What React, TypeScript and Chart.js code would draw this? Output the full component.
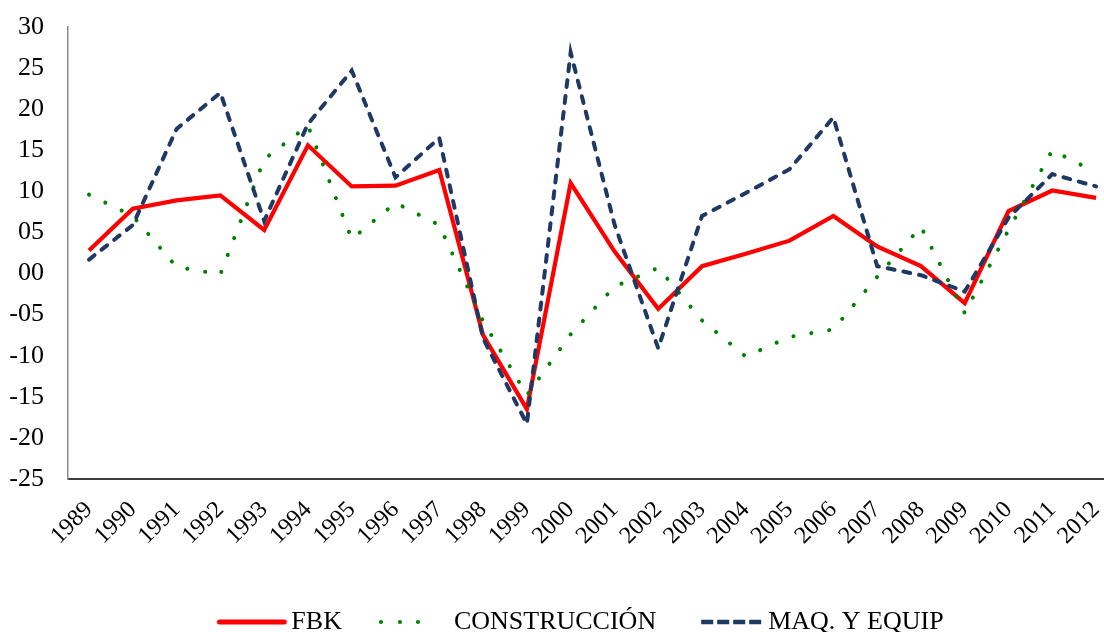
import React, { useEffect, useRef } from "react";
import { Chart, registerables } from "chart.js";

Chart.register(...registerables);

const years = [
  "1989", "1990", "1991", "1992", "1993", "1994", "1995", "1996", "1997", "1998", "1999", "2000",
  "2001", "2002", "2003", "2004", "2005", "2006", "2007", "2008", "2009", "2010", "2011", "2012",
];

const fbk = [2.8, 7.9, 8.9, 9.5, 5.3, 15.6, 10.6, 10.7, 12.6, -7.5, -16.5, 11.0, 2.7, -4.3, 0.9, 2.4, 4.0, 7.0, 3.3, 0.9, -3.6, 7.6, 10.1, 9.2];
const construccion = [9.6, 7.0, 0.8, -0.1, 13.9, 18.0, 4.2, 8.6, 5.9, -5.8, -14.8, -7.4, -1.6, 0.7, -5.7, -10.1, -7.7, -6.8, -0.4, 5.7, -4.8, 5.3, 15.0, 12.3];
const maqEquip = [1.7, 5.9, 17.6, 22.0, 6.4, 18.2, 24.7, 11.7, 16.5, -7.9, -18.3, 26.9, 6.0, -9.1, 7.0, 9.8, 12.7, 19.0, 0.9, -0.2, -2.2, 6.8, 12.1, 10.6];

const seriesNames = ["FBK", "CONSTRUCCIÓN", "MAQ. Y EQUIP"];

const yTickValues = [30, 25, 20, 15, 10, 5, 0, -5, -10, -15, -20, -25];
const yTickLabels = ["30", "25", "20", "15", "10", "05", "00", "-05", "-10", "-15", "-20", "-25"];

const RED = "#ff0000";
const GREEN = "#008000";
const NAVY = "#1f3864";

function makeSample(kind: "solid" | "dots" | "dash"): HTMLCanvasElement {
  const c = document.createElement("canvas");
  c.width = 84;
  c.height = 12;
  const ctx = c.getContext("2d")!;
  if (kind === "solid") {
    ctx.strokeStyle = RED;
    ctx.lineWidth = 5;
    ctx.lineCap = "round";
    ctx.beginPath();
    ctx.moveTo(14, 6);
    ctx.lineTo(79, 6);
    ctx.stroke();
  } else if (kind === "dots") {
    ctx.fillStyle = GREEN;
    [13, 32, 50].forEach((x) => {
      ctx.beginPath();
      ctx.arc(x, 6, 2.1, 0, Math.PI * 2);
      ctx.fill();
    });
  } else {
    ctx.strokeStyle = NAVY;
    ctx.lineWidth = 4.5;
    ctx.setLineDash([12, 4]);
    ctx.beginPath();
    ctx.moveTo(19, 6);
    ctx.lineTo(79, 6);
    ctx.stroke();
  }
  return c;
}

export default function App() {
  const ref = useRef<HTMLCanvasElement | null>(null);

  useEffect(() => {
    document.body.style.margin = "0";
    const toPoints = (arr: number[]) => arr.map((y, i) => ({ x: i, y }));
    const samples = [makeSample("solid"), makeSample("dots"), makeSample("dash")];
    const font = "'Liberation Serif', 'Times New Roman', serif";

    const chart = new Chart(ref.current!, {
      type: "line",
      data: {
        datasets: [
          {
            label: seriesNames[0],
            data: toPoints(fbk),
            borderColor: RED,
            backgroundColor: RED,
            borderWidth: 4.2,
            pointRadius: 0,
            tension: 0,
            order: 3,
          },
          {
            label: seriesNames[1],
            data: toPoints(construccion),
            borderColor: GREEN,
            backgroundColor: GREEN,
            borderWidth: 4,
            borderDash: [0.1, 18],
            borderCapStyle: "round",
            pointRadius: 0,
            tension: 0,
            order: 2,
          },
          {
            label: seriesNames[2],
            data: toPoints(maqEquip),
            borderColor: NAVY,
            backgroundColor: NAVY,
            borderWidth: 4,
            borderDash: [7, 9],
            borderCapStyle: "round",
            pointRadius: 0,
            tension: 0,
            order: 1,
          },
        ],
      },
      options: {
        animation: false,
        responsive: true,
        maintainAspectRatio: false,
        layout: { padding: { top: 27, left: 0, right: 0, bottom: 0 } },
        plugins: {
          tooltip: { enabled: false },
          legend: {
            position: "bottom",
            labels: {
              usePointStyle: true,
              pointStyleWidth: 62,
              padding: 37,
              color: "#000",
              font: { family: font, size: 26 },
              generateLabels: (ch: any) =>
                ch.data.datasets.map((ds: any, i: number) => ({
                  text: ds.label,
                  pointStyle: samples[i],
                  fillStyle: "transparent",
                  strokeStyle: "transparent",
                  lineWidth: 0,
                  hidden: false,
                  datasetIndex: i,
                  fontColor: "#000",
                })),
            },
          },
        },
        scales: {
          x: {
            type: "linear",
            min: -0.48,
            max: 24.46,
            grid: { display: false, drawTicks: false },
            border: { display: true, color: "#404040", width: 2 },
            afterBuildTicks: (s: any) => {
              s.ticks = years.map((_, i) => ({ value: i }));
            },
            afterFit: (s: any) => {
              s.height = 93;
            },
            ticks: {
              autoSkip: false,
              minRotation: 45,
              maxRotation: 45,
              padding: 17,
              color: "#000",
              font: { family: font, size: 24 },
              callback: (v: any) => years[v] ?? "",
            },
          },
          y: {
            type: "linear",
            min: -25,
            max: 30,
            grid: {
              display: true,
              drawOnChartArea: false,
              drawTicks: true,
              tickLength: 24,
              color: "transparent",
            },
            border: { display: true, color: "#8c8c8c", width: 1.5 },
            afterBuildTicks: (s: any) => {
              s.ticks = yTickValues.map((v) => ({ value: v }));
            },
            afterFit: (s: any) => {
              s.width = 68;
            },
            ticks: {
              padding: 0,
              color: "#000",
              font: { family: font, size: 26 },
              callback: (v: any) => yTickLabels[yTickValues.indexOf(v)] ?? "",
            },
          },
        },
      },
    });
    return () => chart.destroy();
  }, []);

  return (
    <div style={{ width: 1104, height: 632, overflow: "hidden", position: "relative", background: "#fff" }}>
      <div style={{ width: 1160, height: 645, position: "relative" }}>
        <canvas ref={ref} />
      </div>
    </div>
  );
}
